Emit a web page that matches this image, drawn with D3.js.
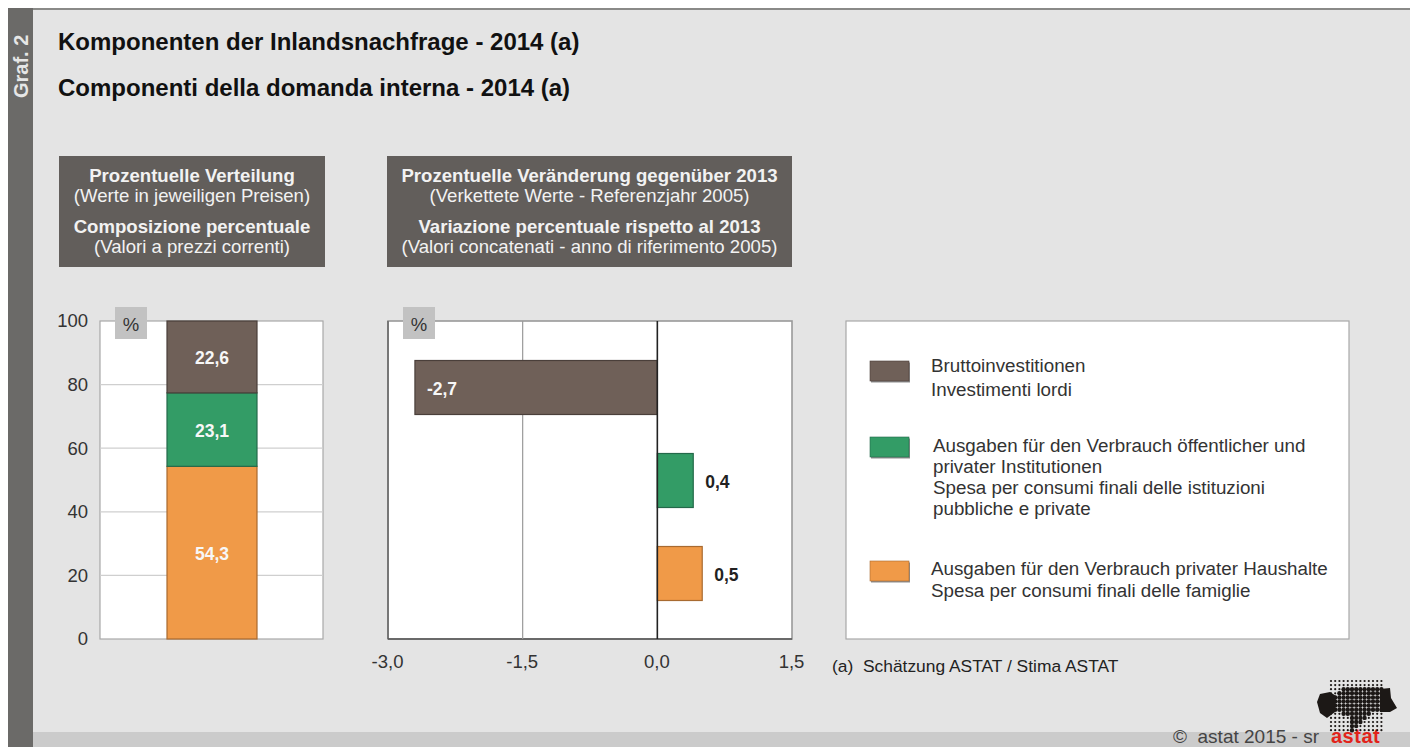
<!DOCTYPE html>
<html>
<head>
<meta charset="utf-8">
<script src="https://cdn.jsdelivr.net/npm/d3@7"></script>
<style>
  html, body { margin: 0; padding: 0; background: #fff; }
  svg { display: block; }
  text { font-family: "Liberation Sans", Arial, sans-serif; }
</style>
</head>
<body>
<div id="chart"></div>
<script>
// shares 2014 (left chart)
const shareKeys = ["famiglie", "istituzioni", "investimenti"];
const shareValues = [54.3, 23.1, 22.6];
const shareLabels = ["54,3", "23,1", "22,6"];
// change on 2013 (right chart), top to bottom
const changeKeys = ["investimenti", "istituzioni", "famiglie"];
const changeValues = [-2.7, 0.4, 0.5];
const changeLabels = ["-2,7", "0,4", "0,5"];

const yTicks = [0, 20, 40, 60, 80, 100];
const xTicks = [-3, -1.5, 0, 1.5];
const xTickLabels = ["-3,0", "-1,5", "0,0", "1,5"];

const titleLines = ["Komponenten der Inlandsnachfrage - 2014 (a)", "Componenti della domanda interna - 2014 (a)"];
const box1Lines = ["Prozentuelle Verteilung", "(Werte in jeweiligen Preisen)", "Composizione percentuale", "(Valori a prezzi correnti)"];
const box2Lines = ["Prozentuelle Veränderung gegenüber 2013", "(Verkettete Werte - Referenzjahr 2005)", "Variazione percentuale rispetto al 2013", "(Valori concatenati - anno di riferimento 2005)"];

const legendKeys = ["investimenti", "istituzioni", "famiglie"];
const legendLines = [
  ["Bruttoinvestitionen", "Investimenti lordi"],
  ["Ausgaben für den Verbrauch öffentlicher und", "privater Institutionen", "Spesa per consumi finali delle istituzioni", "pubbliche e private"],
  ["Ausgaben für den Verbrauch privater Haushalte", "Spesa per consumi finali delle famiglie"]
];

const color = d3.scaleOrdinal()
  .domain(["investimenti", "istituzioni", "famiglie"])
  .range(["#6f6058", "#339c66", "#f09a48"]);
const edge = d3.scaleOrdinal()
  .domain(["investimenti", "istituzioni", "famiglie"])
  .range(["#4a3f3a", "#24694a", "#a86a30"]);

const svg = d3.select("#chart").append("svg")
  .attr("width", 1410)
  .attr("height", 747);

// background, side strip, footer
svg.append("rect").attr("x", 8).attr("y", 8).attr("width", 1402).attr("height", 739).attr("fill", "#e4e4e4");
svg.append("rect").attr("x", 8).attr("y", 8).attr("width", 1402).attr("height", 2).attr("fill", "#8a8a88");
svg.append("rect").attr("x", 8).attr("y", 8).attr("width", 25).attr("height", 739).attr("fill", "#6b6a68");
svg.append("rect").attr("x", 33).attr("y", 732).attr("width", 1377).attr("height", 15).attr("fill", "#cbcbcb");

svg.append("text")
  .attr("transform", "translate(28,98) rotate(-90)")
  .attr("font-size", 20).attr("font-weight", "bold").attr("fill", "#e6e6e6")
  .text("Graf. 2");

svg.selectAll(".title").data(titleLines).join("text")
  .attr("class", "title")
  .attr("x", 58)
  .attr("y", (d, i) => 50 + i * 46)
  .attr("font-size", 24).attr("font-weight", "bold").attr("fill", "#111")
  .text(d => d);

// dark header boxes
function headerBox(x0, w, lines) {
  svg.append("rect").attr("x", x0).attr("y", 156).attr("width", w).attr("height", 111).attr("fill", "#625e5b");
  const ys = [182, 202, 233, 253];
  svg.selectAll(null).data(lines).join("text")
    .attr("x", x0 + w / 2)
    .attr("y", (d, i) => ys[i])
    .attr("text-anchor", "middle")
    .attr("font-size", 18.6)
    .attr("font-weight", (d, i) => i % 2 ? "normal" : "bold")
    .attr("fill", "#f2f2f2")
    .text(d => d);
}
headerBox(59, 266, box1Lines);
headerBox(387, 405, box2Lines);

// left chart: stacked bar
const y = d3.scaleLinear().domain([0, 100]).range([639, 321]);
const plot1 = svg.append("g");
plot1.append("rect").attr("x", 100).attr("y", y(100)).attr("width", 223).attr("height", y(0) - y(100))
  .attr("fill", "#fff").attr("stroke", "#a8a8a8").attr("stroke-width", 1.2);
plot1.selectAll(".grid").data(yTicks.slice(1, -1)).join("line")
  .attr("class", "grid")
  .attr("x1", 100).attr("x2", 323)
  .attr("y1", d => y(d)).attr("y2", d => y(d))
  .attr("stroke", "#cfcfcf").attr("stroke-width", 1.3);

const yAxis = svg.append("g")
  .attr("transform", "translate(100,0)")
  .call(d3.axisLeft(y).tickValues(yTicks).tickSize(0).tickPadding(12));
yAxis.select(".domain").remove();
yAxis.selectAll("text").attr("font-size", 18.5).attr("fill", "#333").attr("font-family", '"Liberation Sans", Arial, sans-serif');

let cum = 0;
const stacked = shareValues.map((v, i) => {
  const row = { key: shareKeys[i], label: shareLabels[i], y0: cum, y1: cum + v };
  cum += v;
  return row;
});
plot1.selectAll(".seg").data(stacked).join("rect")
  .attr("class", "seg")
  .attr("x", 167).attr("width", 90)
  .attr("y", d => y(d.y1))
  .attr("height", d => y(d.y0) - y(d.y1))
  .attr("fill", d => color(d.key))
  .attr("stroke", d => edge(d.key)).attr("stroke-width", 1.2);
plot1.selectAll(".segLabel").data(stacked).join("text")
  .attr("class", "segLabel")
  .attr("x", 212)
  .attr("y", d => y((d.y0 + d.y1) / 2) + 7)
  .attr("text-anchor", "middle")
  .attr("font-size", 17.5).attr("font-weight", "bold").attr("fill", "#f7f7f7")
  .text(d => d.label);

// right chart: diverging bars
const x = d3.scaleLinear().domain([-3, 1.5]).range([388, 792]);
const barY = d3.scalePoint().domain(changeKeys).range([387.5, 573.5]);
const barH = 54;

const plot2 = svg.append("g");
plot2.append("rect").attr("x", x(-3)).attr("y", y(100)).attr("width", x(1.5) - x(-3)).attr("height", y(0) - y(100))
  .attr("fill", "#fff").attr("stroke", "#999").attr("stroke-width", 1.6);
plot2.append("line").attr("x1", x(-3)).attr("x2", x(-3)).attr("y1", y(100)).attr("y2", y(0)).attr("stroke", "#777").attr("stroke-width", 2);
plot2.append("line").attr("x1", x(-3)).attr("x2", x(1.5)).attr("y1", y(0)).attr("y2", y(0)).attr("stroke", "#555").attr("stroke-width", 1.4);
plot2.append("line").attr("x1", x(-1.5)).attr("x2", x(-1.5)).attr("y1", y(100)).attr("y2", y(0)).attr("stroke", "#9a9a9a").attr("stroke-width", 1.2);

const changes = changeKeys.map((k, i) => ({ key: k, value: changeValues[i], label: changeLabels[i] }));
plot2.selectAll(".bar").data(changes).join("rect")
  .attr("class", "bar")
  .attr("x", d => Math.min(x(d.value), x(0)))
  .attr("width", d => Math.abs(x(d.value) - x(0)))
  .attr("y", d => barY(d.key) - barH / 2)
  .attr("height", barH)
  .attr("fill", d => color(d.key))
  .attr("stroke", d => edge(d.key)).attr("stroke-width", 1.2);
plot2.append("line").attr("x1", x(0)).attr("x2", x(0)).attr("y1", y(100)).attr("y2", y(0)).attr("stroke", "#222").attr("stroke-width", 1.6);
plot2.selectAll(".barLabel").data(changes).join("text")
  .attr("class", "barLabel")
  .attr("x", d => x(d.value) + 12)
  .attr("y", d => barY(d.key) + 7)
  .attr("font-size", 17.5).attr("font-weight", "bold")
  .attr("fill", d => d.value < 0 ? "#f7f7f7" : "#222")
  .text(d => d.label);

const xAxis = svg.append("g")
  .attr("transform", "translate(-1,639)")
  .call(d3.axisBottom(x).tickValues(xTicks).tickSize(0).tickPadding(16).tickFormat((d, i) => xTickLabels[i]));
xAxis.select(".domain").remove();
xAxis.selectAll("text").attr("font-size", 18.5).attr("fill", "#333").attr("font-family", '"Liberation Sans", Arial, sans-serif');

// % tags
[115, 403].forEach(px => {
  svg.append("rect").attr("x", px).attr("y", 307).attr("width", 32).attr("height", 32).attr("fill", "#c2c2c2");
  svg.append("text").attr("x", px + 16).attr("y", 331).attr("text-anchor", "middle")
    .attr("font-size", 18.5).attr("fill", "#333").text("%");
});

// legend
svg.append("rect").attr("x", 846).attr("y", 321).attr("width", 503).attr("height", 318)
  .attr("fill", "#fff").attr("stroke", "#a8a8a8").attr("stroke-width", 1.2);
const swatchY = [361, 437, 561];
const textX = [931, 933, 931];
const textY = [372, 452, 575];
const lineGap = [24, 21, 22];
legendKeys.forEach((k, i) => {
  svg.append("rect").attr("x", 871).attr("y", swatchY[i] + 1.5).attr("width", 39).attr("height", 20).attr("fill", "#8d8d8d");
  svg.append("rect").attr("x", 870).attr("y", swatchY[i]).attr("width", 39).attr("height", 20)
    .attr("fill", color(k)).attr("stroke", edge(k)).attr("stroke-width", 0.6);
  svg.selectAll(null).data(legendLines[i]).join("text")
    .attr("x", textX[i])
    .attr("y", (d, j) => textY[i] + j * lineGap[i])
    .attr("font-size", 18.8).attr("fill", "#333")
    .text(d => d);
});

svg.append("text").attr("x", 832).attr("y", 672).attr("font-size", 17.4).attr("fill", "#222")
  .style("white-space", "pre")
  .text("(a)  Schätzung ASTAT / Stima ASTAT");

// footer text and logo
svg.append("text").attr("x", 1173).attr("y", 743).attr("font-size", 19).attr("fill", "#444")
  .style("white-space", "pre").text("©  astat 2015 - sr");
svg.append("text").attr("x", 1331).attr("y", 743).attr("font-size", 20).attr("font-weight", "bold")
  .attr("letter-spacing", 0.5).attr("fill", "#e2231a").text("astat");

const territory = [[1334, 695], [1345, 688], [1384, 688], [1386, 710], [1368, 714], [1362, 722], [1354, 731], [1349, 731], [1348, 716], [1334, 712]];
const logo = svg.append("g");
const dots = d3.range(13).flatMap(r => d3.range(13).map(c => [1331 + c * 4.2, 681 + r * 4.1]));
logo.selectAll("circle").data(dots).join("circle")
  .attr("cx", d => d[0]).attr("cy", d => d[1])
  .attr("r", d => d3.polygonContains(territory, d) ? 2.2 : 1.1)
  .attr("fill", "#1c1816");
logo.append("path")
  .attr("d", "M1317,702 L1320,694 L1330,692 L1336,696 L1335,712 L1327,718 L1320,713 Z")
  .attr("fill", "#1c1816");
logo.append("path")
  .attr("d", "M1380,689 L1390,688 L1391,698 L1397,708 L1390,712 L1380,712 Z")
  .attr("fill", "#1c1816");
</script>
</body>
</html>
